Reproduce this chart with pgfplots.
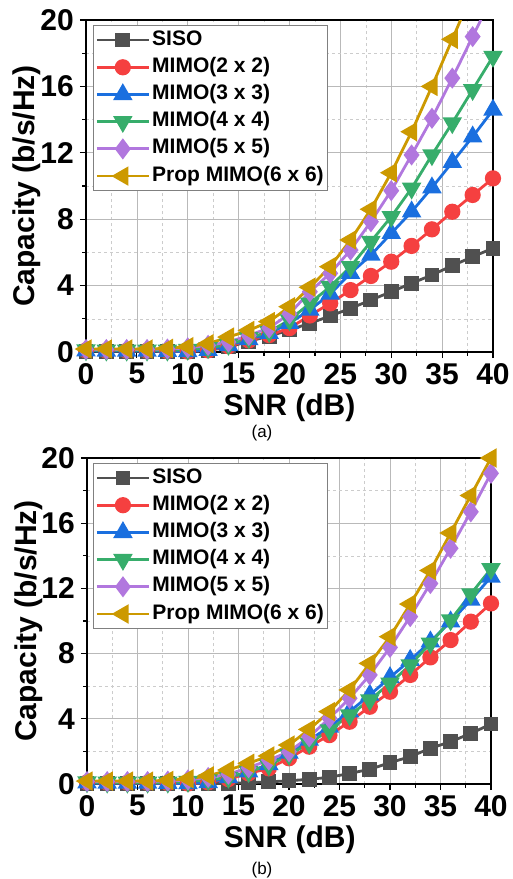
\documentclass[border=0pt]{standalone}
\usepackage{fontspec}
\setmainfont{Liberation Sans}
\usepackage{pgfplots}
\usepackage{pgfplotstable}
\pgfplotsset{compat=1.18}

\definecolor{cgray}{RGB}{80,80,80}
\definecolor{cred}{RGB}{245,64,64}
\definecolor{cblue}{RGB}{26,111,223}
\definecolor{cgreen}{RGB}{55,173,107}
\definecolor{cpurple}{RGB}{177,119,222}
\definecolor{cgold}{RGB}{204,153,0}

\pgfplotstableread{
x siso m2 m3 m4 m5 m6
0 0.05 0.10 0.08 0.12 0.15 0.18
2 0.05 0.08 0.06 0.10 0.15 0.18
4 0.05 0.08 0.06 0.10 0.15 0.18
6 0.05 0.08 0.06 0.10 0.15 0.18
8 0.05 0.06 0.05 0.10 0.18 0.22
10 0.05 0.03 0.03 0.15 0.25 0.32
12 0.10 0.10 0.10 0.25 0.40 0.50
14 0.30 0.35 0.40 0.45 0.60 0.90
16 0.65 0.70 0.75 0.85 1.00 1.30
18 0.95 1.02 1.13 1.22 1.45 1.83
20 1.33 1.44 1.74 1.93 2.30 2.73
22 1.73 2.20 2.53 2.93 3.63 3.90
24 2.17 2.93 3.50 3.94 4.74 5.14
26 2.63 3.73 4.74 5.14 6.14 6.75
28 3.13 4.58 5.84 6.65 7.85 8.60
30 3.63 5.44 7.15 8.15 9.72 10.80
32 4.14 6.39 8.45 9.86 11.87 13.27
34 4.64 7.39 9.90 11.87 14.08 16.00
36 5.20 8.45 11.43 13.80 16.50 18.84
38 5.74 9.46 12.97 15.80 19.00 21.70
40 6.25 10.46 14.58 17.80 21.50 24.50
}\dataA

\pgfplotstableread{
x siso m2 m3 m4 m5 m6
0 0.02 0.10 0.08 0.12 0.15 0.18
2 0.02 0.08 0.06 0.10 0.15 0.18
4 0.02 0.08 0.06 0.10 0.15 0.18
6 0.02 0.08 0.06 0.10 0.15 0.18
8 0.02 0.06 0.05 0.10 0.18 0.22
10 0.02 0.03 0.03 0.15 0.25 0.32
12 0.02 0.10 0.10 0.25 0.40 0.50
14 0.04 0.30 0.40 0.40 0.60 0.86
16 0.08 0.65 0.75 0.75 1.00 1.27
18 0.13 0.96 1.20 1.15 1.47 1.72
20 0.20 1.58 1.90 1.80 1.98 2.39
22 0.29 2.29 2.70 2.50 2.90 3.35
24 0.41 3.00 3.50 3.31 4.03 4.44
26 0.65 3.82 4.44 4.23 5.26 5.77
28 0.90 4.74 5.46 5.15 6.69 7.40
30 1.31 5.66 6.54 6.18 8.38 9.04
32 1.68 6.69 7.60 7.30 10.27 11.04
34 2.19 7.77 8.73 8.63 12.30 13.10
36 2.60 8.83 9.96 10.06 14.46 15.40
38 3.10 9.96 11.29 11.66 16.70 17.70
40 3.68 11.08 12.70 13.20 19.06 20.00
}\dataB

\pgfplotsset{
  capstyle/.style={
    scale only axis,
    xmin=0, xmax=40, ymin=0, ymax=20,
    xtick={0,5,...,40}, ytick={0,4,...,20},
    minor x tick num=1, minor y tick num=1,
    grid=both,
    major grid style={gray!55, line width=0.7pt},
    minor grid style={gray!40, dashed, line width=0.6pt},
    axis line style={line width=1.6pt},
    tick align=outside, tick pos=left,
    major tick length=6pt, minor tick length=3.5pt,
    every tick/.style={black, line width=1.2pt},
    /pgf/number format/assume math mode=true,
    ticklabel style={font=\bfseries\fontsize{30}{30}\selectfont},
    xticklabel style={inner sep=3pt, yshift=-2pt},
    yticklabel style={inner sep=3pt, xshift=-3pt},
    label style={font=\bfseries\fontsize{30}{30}\selectfont},
    xlabel={SNR (dB)}, ylabel={Capacity (b/s/Hz)},
    ylabel style={at={(axis description cs:-0.145,0.5)}, anchor=center},
    legend cell align=left,
    legend style={at={(axis description cs:0.017,0.985)}, anchor=north west,
      draw=gray, line width=1pt, fill=white,
      font=\bfseries\fontsize{21}{21}\selectfont,
      inner xsep=2pt, inner ysep=1pt, row sep=0pt,
      nodes={text height=15pt, text depth=5pt, inner ysep=3.6pt}},
    legend image code/.code={%
      \draw[mark repeat=2, mark phase=2] plot coordinates {(0pt,0pt) (26pt,0pt) (52pt,0pt)};},
  },
  sSISO/.style={cgray, line width=2.8pt, mark=square*, mark size=6pt, mark options={solid}},
  sM2/.style={cred, line width=2.8pt, mark=*, mark size=6.7pt, mark options={solid}},
  sM3/.style={cblue, line width=2.8pt, mark=triangle*, mark size=8.5pt, mark options={solid}},
  sM4/.style={cgreen, line width=2.8pt, mark=triangle*, mark size=8.5pt, mark options={solid, rotate=180}},
  sM5/.style={cpurple, line width=2.8pt, mark=diamond*, mark size=8.3pt, mark options={solid}},
  sM6/.style={cgold, line width=2.8pt, mark=triangle*, mark size=8.5pt, mark options={solid, rotate=90}},
}

\begin{document}
\begin{tikzpicture}
\useasboundingbox (0pt,0pt) rectangle (513pt,-879pt);

\begin{axis}[capstyle, at={(86pt,-352pt)}, anchor=south west,
  width=407pt, height=332pt,
  xlabel style={at={(axis description cs:0.5,-0.169)}, anchor=center}]
\addplot[sSISO] table[x=x, y=siso] {\dataA};
\addlegendentry{SISO}
\addplot[sM2] table[x=x, y=m2] {\dataA};
\addlegendentry{MIMO(2 x 2)}
\addplot[sM3] table[x=x, y=m3] {\dataA};
\addlegendentry{MIMO(3 x 3)}
\addplot[sM4] table[x=x, y=m4] {\dataA};
\addlegendentry{MIMO(4 x 4)}
\addplot[sM5] table[x=x, y=m5] {\dataA};
\addlegendentry{MIMO(5 x 5)}
\addplot[sM6] table[x=x, y=m6] {\dataA};
\addlegendentry{Prop MIMO(6 x 6)}
\end{axis}
\node[font=\fontsize{17}{17}\selectfont] at (262pt,-433pt) {(a)};

\begin{axis}[capstyle, at={(87pt,-784pt)}, anchor=south west,
  width=404pt, height=326pt,
  xlabel style={at={(axis description cs:0.502,-0.172)}, anchor=center},
  legend style={at={(axis description cs:0.015,0.985)}}]
\addplot[sSISO] table[x=x, y=siso] {\dataB};
\addlegendentry{SISO}
\addplot[sM2] table[x=x, y=m2] {\dataB};
\addlegendentry{MIMO(2 x 2)}
\addplot[sM3] table[x=x, y=m3] {\dataB};
\addlegendentry{MIMO(3 x 3)}
\addplot[sM4] table[x=x, y=m4] {\dataB};
\addlegendentry{MIMO(4 x 4)}
\addplot[sM5] table[x=x, y=m5] {\dataB};
\addlegendentry{MIMO(5 x 5)}
\addplot[sM6] table[x=x, y=m6] {\dataB};
\addlegendentry{Prop MIMO(6 x 6)}
\end{axis}
\node[font=\fontsize{17}{17}\selectfont] at (262pt,-870pt) {(b)};
\end{tikzpicture}
\end{document}
